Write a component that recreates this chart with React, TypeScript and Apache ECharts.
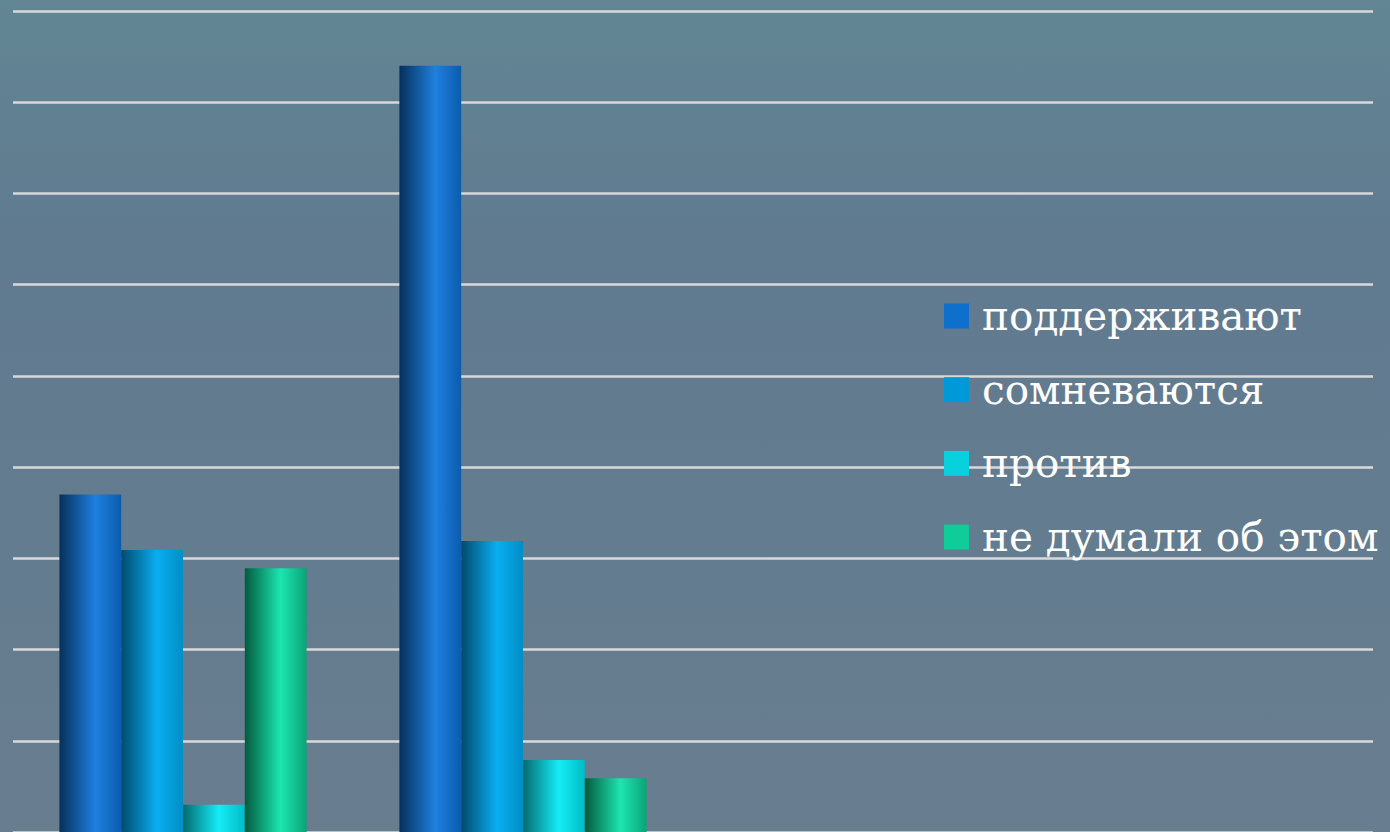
import React, { useEffect, useRef } from "react";
import * as echarts from "echarts";

const categories = ["1", "2", "3", "4"];
const seriesNames = ["поддерживают", "сомневаются", "против", "не думали об этом"];
const supportValues = [37.0, 84.0, null, null];
const doubtValues = [30.9, 31.9, null, null];
const againstValues = [3.0, 7.9, null, null];
const notThoughtValues = [28.9, 5.9, null, null];
const legendColors = ["#0f6fcc", "#0099d8", "#08d0dc", "#10cc98"];
const barGradients = [
  ["#06305a", "#1e80e0", "#0b5cae"],
  ["#024a6c", "#0aaef0", "#008ec6"],
  ["#046a6e", "#16ecf6", "#00bcc6"],
  ["#045a3e", "#1ce6b0", "#0aa476"],
];

export default function App() {
  const ref = useRef<HTMLDivElement>(null);
  useEffect(() => {
    if (!ref.current) return;
    const chart = echarts.init(ref.current, undefined, { renderer: "svg" });
    const all = [supportValues, doubtValues, againstValues, notThoughtValues];
    chart.setOption({
      animation: false,
      backgroundColor: {
        type: "linear",
        x: 0, y: 0, x2: 0, y2: 1,
        colorStops: [
          { offset: 0, color: "#628693" },
          { offset: 0.3, color: "#607a90" },
          { offset: 1, color: "#687e8f" },
        ],
      },
      grid: { left: 13, right: 17, top: 11, bottom: -1.5, containLabel: false },
      legend: {
        orient: "vertical",
        left: 939,
        top: 290,
        icon: "rect",
        itemWidth: 25,
        itemHeight: 25,
        itemGap: 31.7,
        textStyle: {
          color: "#ffffff",
          fontFamily: "DejaVu Serif",
          fontSize: 40.5,
          lineHeight: 40,
          padding: [2, 0, 0, 8],
        },
        data: seriesNames.map((n, i) => ({ name: n, itemStyle: { color: legendColors[i] } })),
      },
      xAxis: {
        type: "category",
        data: categories,
        axisLine: { show: false },
        axisTick: { show: false },
        axisLabel: { show: false },
      },
      yAxis: {
        type: "value",
        min: 0,
        max: 90,
        interval: 10,
        axisLabel: { show: false },
        axisLine: { show: false },
        axisTick: { show: false },
        splitLine: {
          show: true,
          lineStyle: { color: "#d9d9d9", width: 2.5 },
        },
      },
      series: all.map((d, i) => ({
        name: seriesNames[i],
        type: "bar",
        data: d,
        barWidth: 61.8,
        barGap: "0%",
        itemStyle: {
          color: {
            type: "linear",
            x: 0, y: 0, x2: 1, y2: 0,
            colorStops: [
              { offset: 0, color: barGradients[i][0] },
              { offset: 0.58, color: barGradients[i][1] },
              { offset: 1, color: barGradients[i][2] },
            ],
          },
        },
      })),
    });
    return () => chart.dispose();
  }, []);
  return (
    <div
      ref={ref}
      style={{ position: "fixed", left: 0, top: 0, width: 1390, height: 832 }}
    />
  );
}
